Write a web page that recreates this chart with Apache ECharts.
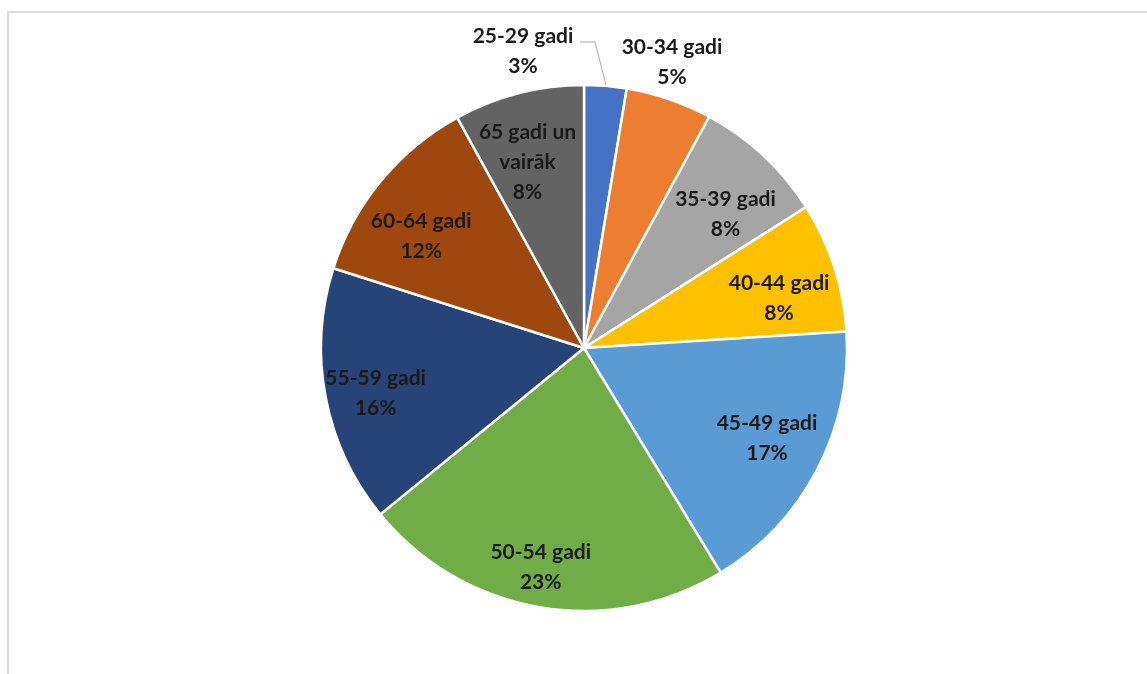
<!DOCTYPE html>
<html>
<head>
<meta charset="utf-8">
<script src="https://cdn.jsdelivr.net/npm/echarts@6/dist/echarts.min.js"></script>
<style>
html,body{margin:0;padding:0;background:#fff;}
#frame{position:absolute;left:7px;top:11px;width:1200px;height:700px;border-top:2px solid #dcdcdc;border-left:2px solid #dcdcdc;}
#chart{position:absolute;left:0;top:0;width:1147px;height:674px;}
</style>
</head>
<body>
<div id="frame"></div>
<div id="chart"></div>
<script>
var categories = ['25-29 gadi','30-34 gadi','35-39 gadi','40-44 gadi','45-49 gadi','50-54 gadi','55-59 gadi','60-64 gadi','65 gadi un\nvairāk'];
var values = [2.6, 5.3, 8.1, 8.0, 17.3, 22.8, 15.8, 12.1, 8.0];
var colors = ['#4472C4','#ED7D31','#A5A5A5','#FFC000','#5B9BD5','#70AD47','#264478','#9E480E','#636363'];
var outsideIdx = [0, 1];
// small nudges of the inner labels (dx, dy) to mimic the original's best-fit placement
var labelNudge = [[0,0],[0,0],[3,15],[2,13],[3,-4],[-9,19],[-9,7],[-6,17],[-6,11]];

var center = [584, 348];
var R = 263;
var fontFamily = 'Lato, "Open Sans", sans-serif';
var textColor = '#1a1a1a';

function fmt(p){ return p.name + '\n' + Math.round(p.percent) + '%'; }

var mainData = categories.map(function(c,i){
  var show = outsideIdx.indexOf(i) >= 0;
  return {name:c, value:values[i], itemStyle:{color:colors[i]},
    label:{show:show}, labelLine:{show: i===0}};
});
var innerData = categories.map(function(c,i){
  var show = outsideIdx.indexOf(i) < 0;
  return {name:c, value:values[i], label:{show:show}};
});

var chart = echarts.init(document.getElementById('chart'));
chart.setOption({
  animation:false,
  series:[
    {
      type:'pie', center:center, radius:[0,R], startAngle:90, clockwise:true,
      data:mainData,
      itemStyle:{borderColor:'#fff', borderWidth:2.5},
      label:{position:'outside', formatter:fmt, fontFamily:fontFamily, fontSize:21, fontWeight:'bold', color:textColor, lineHeight:30, align:'center'},
      labelLine:{lineStyle:{color:'#a6a6a6', width:1}},
      emphasis:{disabled:true},
      labelLayout:function(p){
        if(p.dataIndex===0){
          return {x:523, y:51, align:'center', verticalAlign:'middle',
            labelLinePoints:[[606,85],[595,42],[580,42]]};
        }
        if(p.dataIndex===1){
          return {x:672, y:62, align:'center', verticalAlign:'middle'};
        }
      }
    },
    {
      type:'pie', center:center, radius:[137,R], startAngle:90, clockwise:true,
      silent:true, data:innerData,
      itemStyle:{color:'rgba(0,0,0,0)', borderWidth:0},
      label:{position:'inside', formatter:fmt, fontFamily:fontFamily, fontSize:21, fontWeight:'bold', color:textColor, lineHeight:30},
      labelLine:{show:false},
      emphasis:{disabled:true},
      labelLayout:function(p){
        var n = labelNudge[p.dataIndex] || [0,0];
        var r = p.labelRect;
        return {x:r.x + r.width/2 + n[0], y:r.y + r.height/2 + n[1], align:'center', verticalAlign:'middle'};
      }
    }
  ]
});
</script>
</body>
</html>
